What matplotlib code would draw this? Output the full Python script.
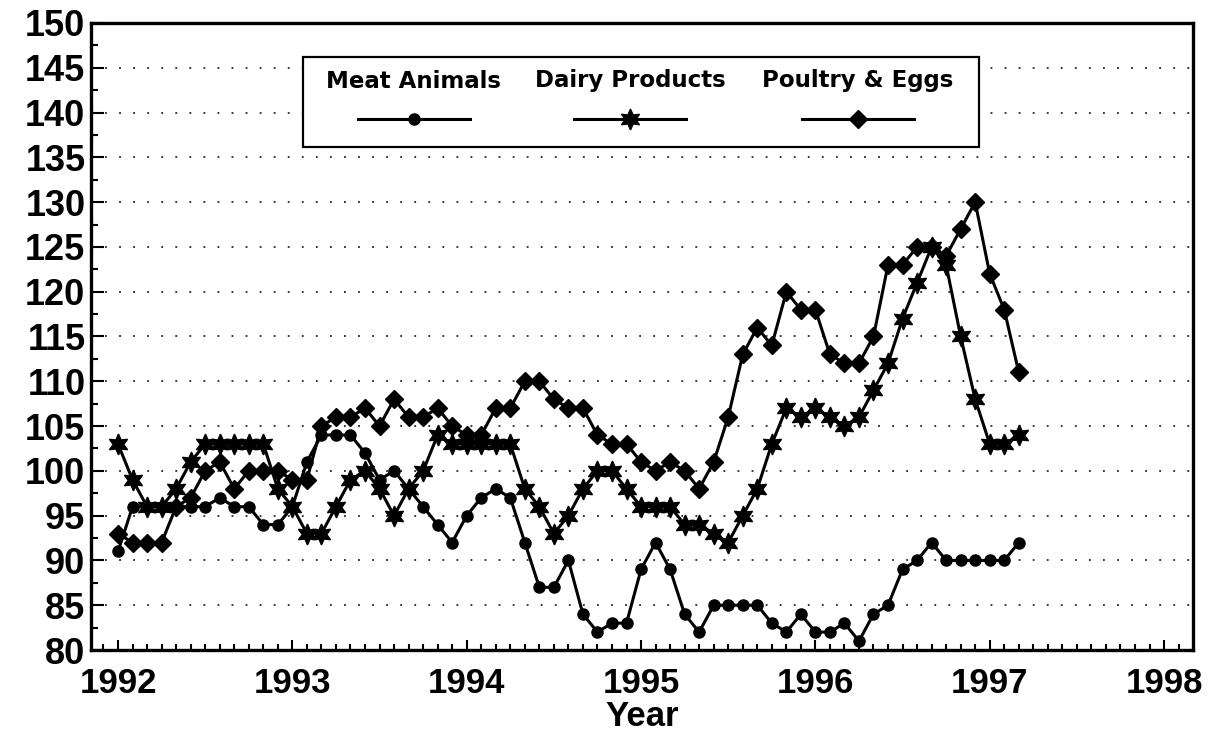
import numpy as np
import matplotlib.pyplot as plt
from matplotlib.patches import Rectangle
from matplotlib.ticker import MultipleLocator

# monthly index values, Jan 1992 - Mar 1997
meat = [91, 96, 96, 96, 96, 96, 96, 97, 96, 96, 94, 94,
        96, 101, 104, 104, 104, 102, 99, 100, 98, 96, 94, 92,
        95, 97, 98, 97, 92, 87, 87, 90, 84, 82, 83, 83,
        89, 92, 89, 84, 82, 85, 85, 85, 85, 83, 82, 84,
        82, 82, 83, 81, 84, 85, 89, 90, 92, 90, 90, 90,
        90, 90, 92]
dairy = [103, 99, 96, 96, 98, 101, 103, 103, 103, 103, 103, 98,
         96, 93, 93, 96, 99, 100, 98, 95, 98, 100, 104, 103,
         103, 103, 103, 103, 98, 96, 93, 95, 98, 100, 100, 98,
         96, 96, 96, 94, 94, 93, 92, 95, 98, 103, 107, 106,
         107, 106, 105, 106, 109, 112, 117, 121, 125, 123, 115, 108,
         103, 103, 104]
poultry = [93, 92, 92, 92, 96, 97, 100, 101, 98, 100, 100, 100,
           99, 99, 105, 106, 106, 107, 105, 108, 106, 106, 107, 105,
           104, 104, 107, 107, 110, 110, 108, 107, 107, 104, 103, 103,
           101, 100, 101, 100, 98, 101, 106, 113, 116, 114, 120, 118,
           118, 113, 112, 112, 115, 123, 123, 125, 125, 124, 127, 130,
           122, 118, 111]
months = np.arange(len(meat))
years = 1992 + months / 12.0

labels = ['Meat Animals', 'Dairy Products', 'Poultry & Eggs']
star6 = (6, 1, 0)
styles = [dict(marker='o', markersize=8),
          dict(marker=star6, markersize=15),
          dict(marker='D', markersize=9.5)]

plt.rcParams['font.family'] = ['Liberation Sans', 'DejaVu Sans']

fig = plt.figure(figsize=(12.18, 7.40), dpi=100)
ax = fig.add_axes([91 / 1218, 1 - 650 / 740, 1102 / 1218, 627 / 740])

for vals, st in zip([meat, dairy, poultry], styles):
    ax.plot(years, vals, color='black', linewidth=2.2, markerfacecolor='black',
            markeredgecolor='black', zorder=3, **st)

ax.set_xlim(1991.845, 1998.166)
ax.set_ylim(80, 150)
ax.xaxis.set_major_locator(MultipleLocator(1))
ax.xaxis.set_minor_locator(MultipleLocator(1 / 12))
ax.yaxis.set_major_locator(MultipleLocator(5))
ax.yaxis.set_minor_locator(MultipleLocator(2.5))
ax.tick_params(axis='both', which='both', direction='in', width=1.5, color='black')
ax.tick_params(axis='x', which='major', length=7, pad=12, labelsize=25)
ax.tick_params(axis='x', which='minor', length=4)
ax.tick_params(axis='y', which='major', length=9, pad=4, labelsize=26)
ax.tick_params(axis='y', which='minor', length=5)
for lab in ax.get_xticklabels() + ax.get_yticklabels():
    lab.set_fontweight('bold')

ax.yaxis.grid(True, which='major', color='black', linestyle=(0, (1.2, 8)), linewidth=1.1)
for sp in ax.spines.values():
    sp.set_linewidth(2.4)

ax.set_xlabel('Year', fontsize=25, fontweight='bold', labelpad=0)

# legend box, text above each sample line
def px(x, y):
    return (x - 91) / 1102, (650 - y) / 627

x0, y1 = px(303, 57)
x1, y0 = px(979, 147)
ax.add_patch(Rectangle((x0, y0), x1 - x0, y1 - y0, transform=ax.transAxes,
                       facecolor='white', edgecolor='black', linewidth=1.6, zorder=5))
centers = [414, 630, 858]
for lab, c, st in zip(labels, centers, styles):
    tx, ty = px(c, 81)
    ax.text(tx, ty, lab, transform=ax.transAxes, ha='center', va='center',
            fontsize=16.5, fontweight='bold', family='DejaVu Sans', zorder=6)
    la, ly = px(c - 56, 119)
    lb, _ = px(c + 56, 119)
    ax.plot([la, tx, lb], [ly, ly, ly], transform=ax.transAxes, color='black',
            linewidth=2.2, markevery=[1], markerfacecolor='black',
            markeredgecolor='black', zorder=6, clip_on=False, **st)

fig.savefig('out.png', dpi=100)
